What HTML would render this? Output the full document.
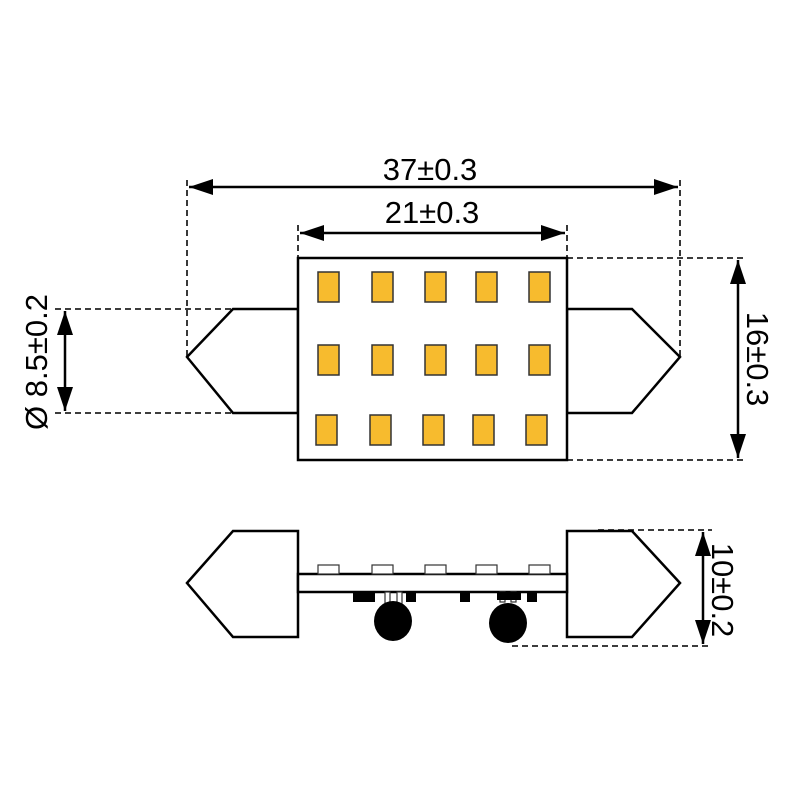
<!DOCTYPE html>
<html><head><style>body{margin:0;background:#fff}</style></head><body>
<svg width="800" height="800" viewBox="0 0 800 800" xmlns="http://www.w3.org/2000/svg" font-family="Liberation Sans, sans-serif">
<defs>
<marker id="b" viewBox="0 0 10 10" refX="10" refY="5" markerWidth="24" markerHeight="16" markerUnits="userSpaceOnUse" orient="auto-start-reverse" preserveAspectRatio="none"><path d="M0,0L10,5L0,10z" fill="#000"/></marker>
</defs>
<g stroke="#222" stroke-width="1.8" stroke-dasharray="6,4" fill="none">
<line x1="187" y1="180" x2="187" y2="357"/><line x1="680" y1="180" x2="680" y2="357"/>
<line x1="298" y1="225" x2="298" y2="258"/><line x1="567" y1="225" x2="567" y2="258"/>
<line x1="567" y1="258" x2="745" y2="258"/><line x1="567" y1="460" x2="745" y2="460"/>
<line x1="55" y1="309" x2="233" y2="309"/><line x1="55" y1="413" x2="233" y2="413"/>
<line x1="598" y1="530" x2="712" y2="530"/><line x1="512" y1="646" x2="712" y2="646"/>
</g>
<g stroke="#000" stroke-width="2.5" fill="none">
<line x1="189" y1="187" x2="678" y2="187" marker-start="url(#b)" marker-end="url(#b)"/>
<line x1="300" y1="233" x2="565" y2="233" marker-start="url(#b)" marker-end="url(#b)"/>
<line x1="738" y1="260" x2="738" y2="458" marker-start="url(#b)" marker-end="url(#b)"/>
<line x1="65" y1="311" x2="65" y2="411" marker-start="url(#b)" marker-end="url(#b)"/>
<line x1="703" y1="532" x2="703" y2="644" marker-start="url(#b)" marker-end="url(#b)"/>
</g>
<g font-size="31" fill="#000">
<text x="430" y="180" text-anchor="middle">37±0.3</text>
<text x="432" y="223" text-anchor="middle">21±0.3</text>
<text transform="translate(747,359) rotate(90)" text-anchor="middle">16±0.3</text>
<text transform="translate(47,362) rotate(-90)" text-anchor="middle">Ø 8.5±0.2</text>
<text transform="translate(712,590) rotate(90)" text-anchor="middle">10±0.2</text>
</g>
<g stroke="#000" stroke-width="2.5" fill="#fff">
<polygon points="187,357 233,309 298,309 298,413 233,413"/>
<polygon points="680,357 632,309 567,309 567,413 632,413"/>
<rect x="298" y="258" width="269" height="202"/>
</g>
<g stroke="#333" stroke-width="1.5" fill="#f7bb2e">
<rect x="318" y="272" width="21" height="30"/><rect x="372" y="272" width="21" height="30"/><rect x="425" y="272" width="21" height="30"/><rect x="476" y="272" width="21" height="30"/><rect x="529" y="272" width="21" height="30"/>
<rect x="318" y="345" width="21" height="30"/><rect x="372" y="345" width="21" height="30"/><rect x="425" y="345" width="21" height="30"/><rect x="476" y="345" width="21" height="30"/><rect x="529" y="345" width="21" height="30"/>
<rect x="316" y="415" width="21" height="30"/><rect x="370" y="415" width="21" height="30"/><rect x="423" y="415" width="21" height="30"/><rect x="473" y="415" width="21" height="30"/><rect x="526" y="415" width="21" height="30"/>
</g>
<g stroke="#000" stroke-width="2.5" fill="#fff">
<polygon points="187,583 233,531 298,531 298,637 233,637"/>
<polygon points="680,583 632,531 567,531 567,637 632,637"/>
<rect x="298" y="574" width="269" height="18"/>
</g>
<g stroke="#333" stroke-width="1.2" fill="#fff">
<rect x="318" y="565" width="21" height="9"/><rect x="372" y="565" width="21" height="9"/><rect x="425" y="565" width="21" height="9"/><rect x="476" y="565" width="21" height="9"/><rect x="529" y="565" width="21" height="9"/>
<rect x="385" y="592" width="5" height="12"/><rect x="397" y="592" width="5" height="12"/>
<rect x="500" y="592" width="5" height="10"/><rect x="511" y="592" width="5" height="10"/>
</g>
<g fill="#000">
<rect x="353" y="592" width="22" height="10"/><rect x="406" y="592" width="10" height="10"/>
<rect x="460" y="592" width="10" height="10"/><rect x="497" y="592" width="24" height="8"/><rect x="527" y="592" width="10" height="10"/>
<ellipse cx="393" cy="621" rx="19" ry="20"/><ellipse cx="508" cy="623" rx="19" ry="20"/>
</g>
</svg>
</body></html>
